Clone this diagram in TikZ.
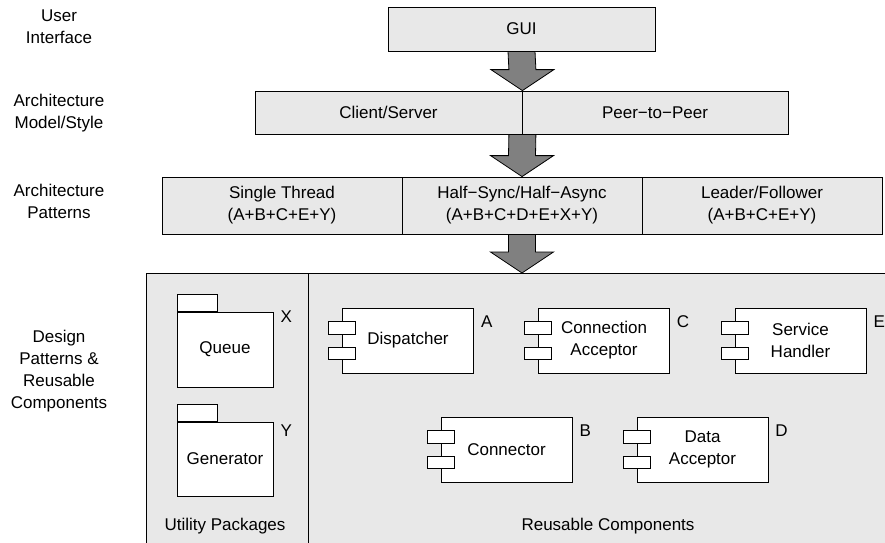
\documentclass[tikz,border=0pt]{standalone}
\usepackage{fontspec}
\setmainfont{Liberation Sans}
\usetikzlibrary{calc}
\definecolor{boxgray}{RGB}{232,232,232}
\definecolor{arrowgray}{RGB}{128,128,128}

\begin{document}
\begin{tikzpicture}[x=1pt, y=-1pt, every node/.style={font=\fontsize{17}{22}\selectfont, inner sep=0pt}]
\useasboundingbox (0,0) rectangle (885,542);

\tikzset{layerbox/.style={draw, fill=boxgray, line width=0.8pt, align=center, minimum height=44pt}}
\tikzset{panel/.style={draw, fill=boxgray, line width=0.8pt, anchor=north west, minimum height=300pt}}
\tikzset{pkgbox/.style={draw, fill=white, line width=0.8pt, minimum width=96pt, minimum height=75pt}}
\tikzset{tabbox/.style={draw, fill=white, line width=0.8pt, anchor=south west, minimum width=40pt, minimum height=17pt}}
\tikzset{compbox/.style={draw, fill=white, line width=0.8pt, align=center, minimum width=131pt, minimum height=65pt}}
\tikzset{portbox/.style={draw, fill=white, line width=0.8pt, minimum width=27pt, minimum height=12.5pt}}
\tikzset{layername/.style={align=center}}
\tikzset{fatarrow/.style={draw, fill=arrowgray, line width=0.8pt, to path={
  ($(\tikztostart)+(-13.5,0)$) -- ($(\tikztotarget)+(-13.5,-21)$) -- ($(\tikztotarget)+(-31.5,-21)$)
  -- (\tikztotarget) -- ($(\tikztotarget)+(31.5,-21)$) -- ($(\tikztotarget)+(13.5,-21)$)
  -- ($(\tikztostart)+(13.5,0)$) -- cycle}}}

% layer names on the left
\node[layername] (ui) at (59,27) {User\\Interface};
\node[layername] (model) at (59,113) {Architecture\\Model/Style};
\node[layername] (arch) at (59,201) {Architecture\\Patterns};
\node[layername] (design) at (59,371) {Design\\Patterns \&\\Reusable\\Components};

% layers
\node[layerbox, minimum width=267pt] (gui) at (521.5,29) {GUI};
\node[layerbox, minimum width=267pt, minimum height=43pt] (cs) at (388.5,112.5) {Client/Server};
\node[layerbox, minimum width=266pt, minimum height=43pt] (p2p) at (655,112.5) {Peer−to−Peer};
\node[layerbox, minimum width=240pt, minimum height=57pt] (st) at (282,205.5) {Single Thread\\(A+B+C+E+Y)};
\node[layerbox, minimum width=240pt, minimum height=57pt] (hs) at (522,205.5) {Half−Sync/Half−Async\\(A+B+C+D+E+X+Y)};
\node[layerbox, minimum width=240pt, minimum height=57pt] (lf) at (762,205.5) {Leader/Follower\\(A+B+C+E+Y)};

\node[panel, minimum width=162pt] (util) at (146,273) {};
\node[panel, minimum width=600pt] (reuse) at (308,273) {};
\node (utillbl) at (225,526) {Utility Packages};
\node (reuselbl) at (608,526) {Reusable Components};

% utility packages
\node[pkgbox] (queue) at (225,349.5) {Queue};
\node[tabbox] (queuetab) at (queue.north west) {};
\node (x) at ($(queue.north east)+(13,5)$) {X};
\node[pkgbox, minimum height=74pt] (gen) at (225,459) {Generator};
\node[tabbox] (gentab) at (gen.north west) {};
\node (y) at ($(gen.north east)+(13,9)$) {Y};

% components
\node[compbox] (disp) at (408,340.5) {Dispatcher};
\node[compbox] (cacc) at (604,340.5) {Connection\\Acceptor};
\node[compbox] (svc) at (800.5,340.5) {Service\\Handler};
\node[compbox] (conn) at (506.5,449.5) {Connector};
\node[compbox] (dacc) at (702.5,449.5) {Data\\Acceptor};

\node[portbox] (disp1) at ($(disp.west)+(0,-12.5)$) {};
\node[portbox] (disp2) at ($(disp.west)+(0,13)$) {};
\node[portbox] (cacc1) at ($(cacc.west)+(0,-12.5)$) {};
\node[portbox] (cacc2) at ($(cacc.west)+(0,13)$) {};
\node[portbox] (svc1) at ($(svc.west)+(0,-12.5)$) {};
\node[portbox] (svc2) at ($(svc.west)+(0,13)$) {};
\node[portbox] (conn1) at ($(conn.west)+(0,-12.5)$) {};
\node[portbox] (conn2) at ($(conn.west)+(0,13)$) {};
\node[portbox] (dacc1) at ($(dacc.west)+(0,-12.5)$) {};
\node[portbox] (dacc2) at ($(dacc.west)+(0,13)$) {};

\node (a) at ($(disp.north east)+(13,14)$) {A};
\node (c) at ($(cacc.north east)+(13,14)$) {C};
\node (e) at ($(svc.north east)+(13,14)$) {E};
\node (b) at ($(conn.north east)+(13,14)$) {B};
\node (d) at ($(dacc.north east)+(13,14)$) {D};

% arrows between layers
\coordinate (tip3) at (hs.south |- reuse.north);
\path (gui.south) edge [fatarrow] (cs.north east);
\path (cs.south east) edge [fatarrow] (hs.north);
\path (hs.south) edge [fatarrow] (tip3);
\end{tikzpicture}
\end{document}
